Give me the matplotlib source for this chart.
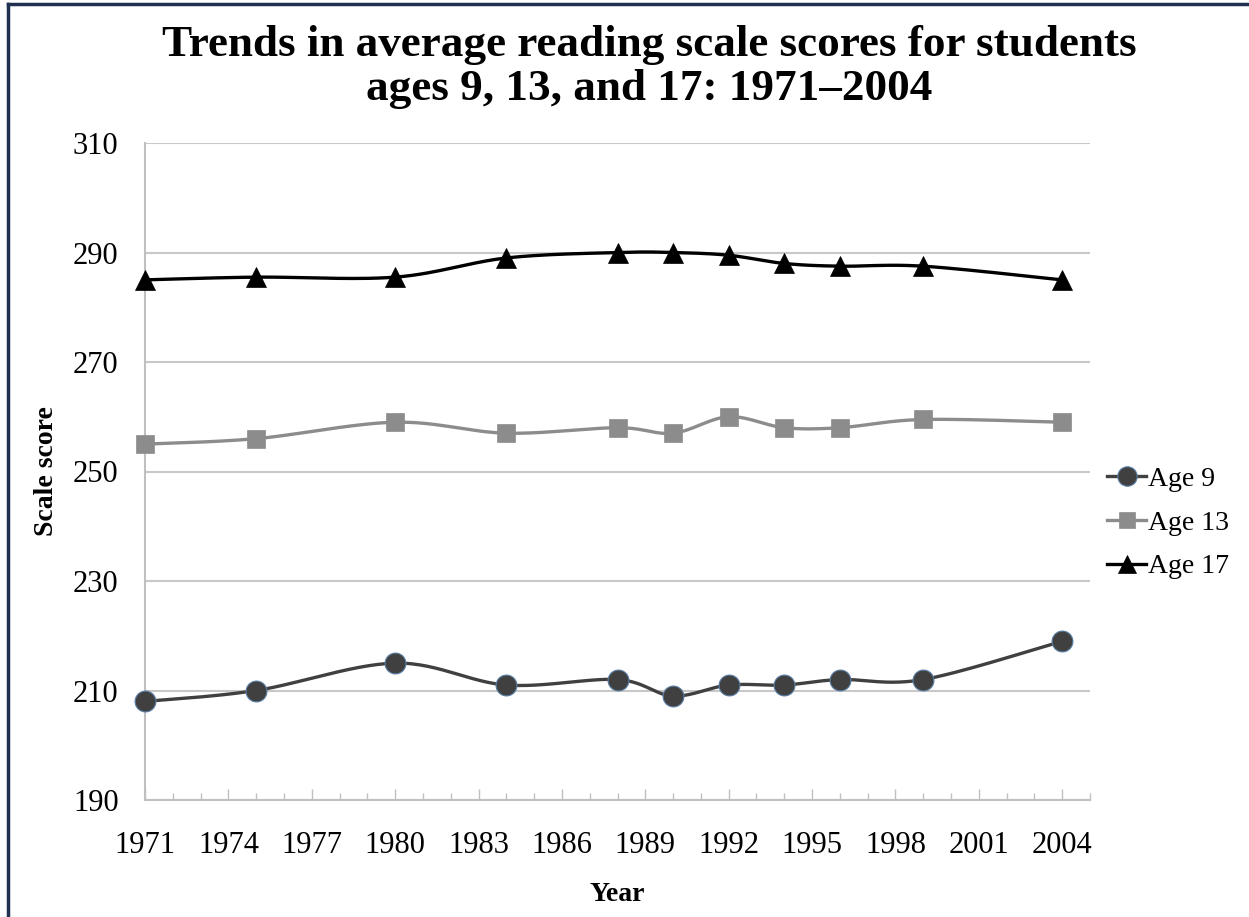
import numpy as np
import matplotlib
matplotlib.use("Agg")
import matplotlib.pyplot as plt
from matplotlib.lines import Line2D

years = [1971, 1975, 1980, 1984, 1988, 1990, 1992, 1994, 1996, 1999, 2004]
age9 = [208, 210, 215, 211, 212, 209, 211, 211, 212, 212, 219]
age13 = [255, 256, 259, 257, 258, 257, 260, 258, 258, 259.5, 259]
age17 = [285, 285.5, 285.5, 289, 290, 290, 289.5, 288, 287.5, 287.5, 285]
series_names = ["Age 9", "Age 13", "Age 17"]
xticks = list(range(1971, 2005, 3))
yticks = list(range(190, 311, 20))

plt.rcParams['font.family'] = ['Liberation Serif', 'DejaVu Serif']


def smooth(x, y, n=30):
    x = np.asarray(x, float)
    y = np.asarray(y, float)
    px = np.concatenate([[x[0]], x, [x[-1]]])
    py = np.concatenate([[y[0]], y, [y[-1]]])
    xs, ys = [], []
    t = np.linspace(0, 1, n)
    for i in range(1, len(px) - 2):
        p0x, p1x, p2x, p3x = px[i - 1], px[i], px[i + 1], px[i + 2]
        p0y, p1y, p2y, p3y = py[i - 1], py[i], py[i + 1], py[i + 2]
        c1x = p1x + (p2x - p0x) / 6
        c1y = p1y + (p2y - p0y) / 6
        c2x = p2x - (p3x - p1x) / 6
        c2y = p2y - (p3y - p1y) / 6
        bx = (1 - t) ** 3 * p1x + 3 * (1 - t) ** 2 * t * c1x + 3 * (1 - t) * t ** 2 * c2x + t ** 3 * p2x
        by = (1 - t) ** 3 * p1y + 3 * (1 - t) ** 2 * t * c1y + 3 * (1 - t) * t ** 2 * c2y + t ** 3 * p2y
        xs.extend(bx)
        ys.extend(by)
    return np.array(xs), np.array(ys)


fig = plt.figure(figsize=(12.49, 9.17), dpi=100)
ax = fig.add_axes([145 / 1249, 1 - 800 / 917, (1090 - 145) / 1249, (800 - 143) / 917])

styles = [
    dict(color="#404040", marker="o", ms=15, mec="#5b7fa6", mew=0.8),
    dict(color="#8c8c8c", marker="s", ms=13, mec="#8c8c8c", mew=0.5),
    dict(color="#000000", marker="^", ms=14, mec="#000000", mew=0.5),
]
handles = []
for vals, name, st in zip([age9, age13, age17], series_names, styles):
    sx, sy = smooth(years, vals)
    ax.plot(sx, sy, color=st["color"], lw=2.4, zorder=3, solid_capstyle="round")
    ax.plot(years, vals, ls="none", marker=st["marker"], ms=st["ms"],
            mfc=st["color"], mec=st["mec"], mew=st["mew"], zorder=4, clip_on=False)
    handles.append(Line2D([0], [0], color=st["color"], lw=2.4, marker=st["marker"],
                          ms=st["ms"] - 1, mfc=st["color"], mec=st["mec"], mew=st["mew"]))

ax.set_xlim(1971, 2005)
ax.set_ylim(190, 310)
ax.set_yticks(yticks)
ax.set_xticks(xticks)
ax.set_xticks(range(1971, 2006), minor=True)
ax.grid(axis="y", color="#c8c8c8", lw=1.5, zorder=0)
for s in ["top", "right"]:
    ax.spines[s].set_visible(False)
for s in ["left", "bottom"]:
    ax.spines[s].set_color("#c0c0c0")
    ax.spines[s].set_linewidth(1.5)
ax.tick_params(axis="y", length=0, pad=19, labelsize=22)
ax.tick_params(axis="x", which="major", length=8, color="#c0c0c0", width=1, direction="in", pad=22, labelsize=22)
ax.tick_params(axis="x", which="minor", length=5, color="#c0c0c0", width=1, direction="in")

ax.set_ylabel("Scale score", fontsize=20, fontweight="bold", labelpad=10)
ax.set_xlabel("Year", fontsize=20, fontweight="bold", labelpad=16)

fig.text(0.52, 1 - 67 / 917, "Trends in average reading scale scores for students\nages 9, 13, and 17: 1971\u20132004",
         ha="center", va="center", fontsize=32.5, fontweight="bold", linespacing=1.1)

leg = fig.legend(handles, series_names, loc="center left", bbox_to_anchor=(1096 / 1249, 1 - 523 / 917),
                 frameon=False, fontsize=20, handlelength=1.4, handletextpad=0.08, labelspacing=0.65,
                 borderaxespad=0)

fig.add_artist(Line2D([8 / 1249, 8 / 1249], [0, 1 - 4 / 917], color="#1f3050", lw=2.5))
fig.add_artist(Line2D([8 / 1249, 1], [1 - 4 / 917, 1 - 4 / 917], color="#1f3050", lw=2.5))

fig.savefig("out.png", dpi=100)
